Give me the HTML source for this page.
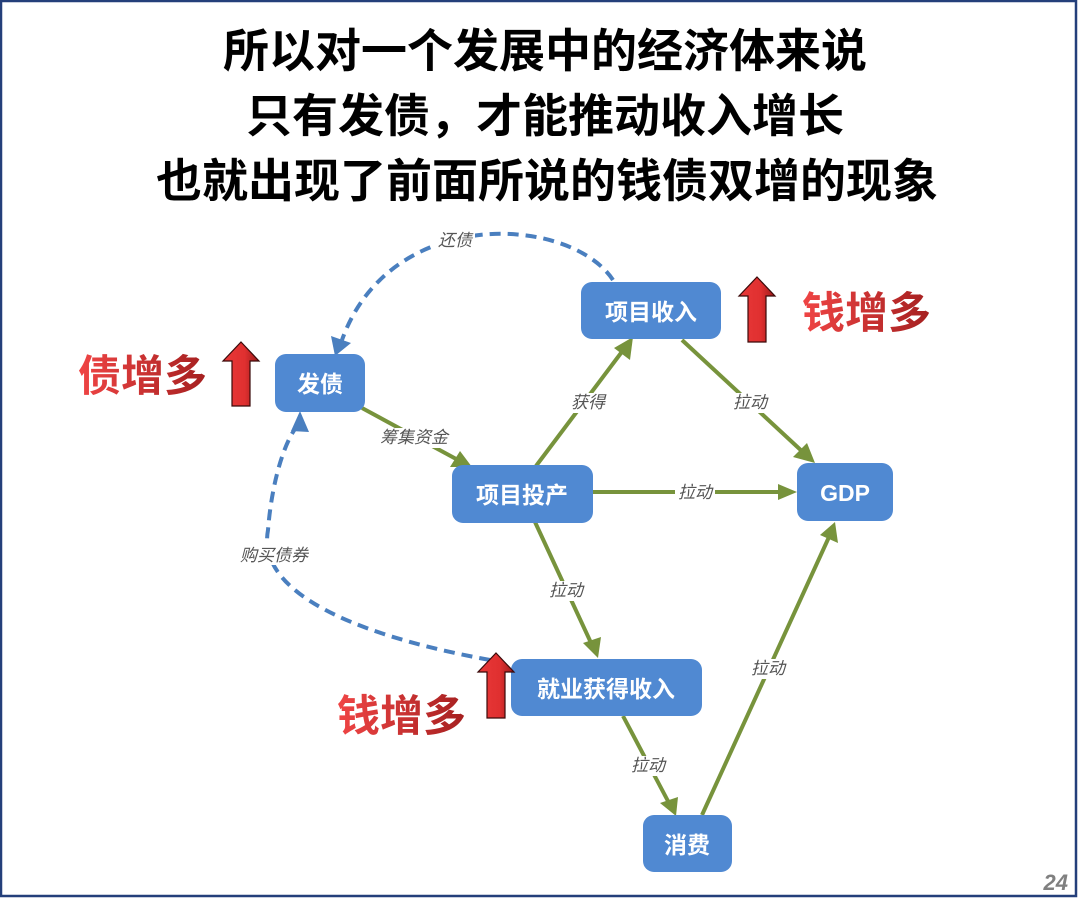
<!DOCTYPE html>
<html><head><meta charset="utf-8">
<style>
html,body{margin:0;padding:0;background:#fff;}
body{width:1080px;height:899px;overflow:hidden;position:relative;font-family:"Liberation Sans","Noto Sans CJK SC",sans-serif;}
</style></head>
<body>
<svg width="1080" height="899" viewBox="0 0 1080 899" xmlns="http://www.w3.org/2000/svg" style="position:absolute;left:0;top:0">
<defs>
<linearGradient id="rg" x1="0" y1="0" x2="1" y2="0">
<stop offset="0" stop-color="#f04545"/><stop offset="1" stop-color="#a52020"/></linearGradient>
<linearGradient id="ag" x1="0" y1="0" x2="1" y2="0">
<stop offset="0" stop-color="#e83838"/><stop offset="0.6" stop-color="#e03030"/><stop offset="1" stop-color="#9a1a1a"/></linearGradient>
</defs>
<rect x="1" y="1" width="1075" height="895" fill="none" stroke="#243f7a" stroke-width="2.5"/>
<g font-family="'Liberation Sans','Noto Sans CJK SC',sans-serif" font-weight="bold" font-size="46" fill="#000" text-anchor="middle">
<text x="545" y="67">所以对一个发展中的经济体来说</text>
<text x="545" y="132">只有发债，才能推动收入增长</text>
<text x="547" y="197">也就出现了前面所说的钱债双增的现象</text>
</g>
<g fill="none" stroke="#4a7fbf" stroke-width="4" stroke-dasharray="11,7">
<path d="M613,280 C570,215 390,205 342,340"/>
<path d="M490,660 C380,640 255,600 268,530 C272,480 285,440 298,425"/>
</g>
<polygon points="335,356 331,336 351,343" fill="#4a7fbf"/>
<polygon points="300,411 291,431 309,432" fill="#4a7fbf"/>
<g stroke="#77933c" stroke-width="4" fill="none">
<line x1="362" y1="408" x2="458" y2="460"/>
<line x1="536" y1="466" x2="624" y2="349"/>
<line x1="682" y1="340" x2="805" y2="454"/>
<line x1="592" y1="492" x2="782" y2="492"/>
<line x1="535" y1="522" x2="592" y2="645"/>
<line x1="623" y1="716" x2="669" y2="803"/>
<line x1="702" y1="815" x2="829" y2="537"/>
</g>
<g fill="#77933c">
<polygon points="472,467 450,467 460,451"/>
<polygon points="633,337 630,360 614,348"/>
<polygon points="815,463 793,457 807,443"/>
<polygon points="797,492 778,484 778,500"/>
<polygon points="598,658 583,643 601,637"/>
<polygon points="676,816 660,803 678,797"/>
<polygon points="835,522 838,543 820,535"/>
</g>
<g font-family="'Liberation Sans','Noto Sans CJK SC',sans-serif" font-style="italic" font-size="17" fill="#555" text-anchor="middle">
<rect x="435" y="230" width="40" height="20" fill="#fff"/><text x="455" y="246">还债</text>
<rect x="234" y="545" width="80" height="20" fill="#fff"/><text x="274" y="561">购买债券</text>
<rect x="375" y="428" width="78" height="20" fill="#fff"/><text x="414" y="443">筹集资金</text>
<rect x="568" y="393" width="40" height="20" fill="#fff"/><text x="588" y="408">获得</text>
<rect x="730" y="393" width="40" height="20" fill="#fff"/><text x="750" y="408">拉动</text>
<rect x="675" y="483" width="40" height="20" fill="#fff"/><text x="695" y="498">拉动</text>
<rect x="546" y="581" width="40" height="20" fill="#fff"/><text x="566" y="596">拉动</text>
<rect x="628" y="756" width="40" height="20" fill="#fff"/><text x="648" y="771">拉动</text>
<rect x="748" y="659" width="40" height="20" fill="#fff"/><text x="768" y="674">拉动</text>
</g>
<g fill="#5089d2">
<rect x="275" y="354" width="90" height="58" rx="11"/>
<rect x="452" y="465" width="141" height="58" rx="11"/>
<rect x="581" y="282" width="140" height="57" rx="11"/>
<rect x="797" y="463" width="96" height="58" rx="11"/>
<rect x="511" y="659" width="191" height="57" rx="11"/>
<rect x="643" y="815" width="89" height="57" rx="11"/>
</g>
<g font-family="'Liberation Sans','Noto Sans CJK SC',sans-serif" font-weight="bold" font-size="23" fill="#fff" text-anchor="middle">
<text x="320" y="392">发债</text>
<text x="522" y="503">项目投产</text>
<text x="651" y="320">项目收入</text>
<text x="845" y="501">GDP</text>
<text x="606" y="697">就业获得收入</text>
<text x="687" y="853">消费</text>
</g>
<g stroke="#3a0a0a" stroke-width="1.2" fill="url(#ag)">
<polygon points="241,342 259,361 250,361 250,406 232,406 232,361 223,361"/>
<polygon points="757,277 775,296 766,296 766,342 748,342 748,296 739,296"/>
<polygon points="496,653 514,672 505,672 505,718 487,718 487,672 478,672"/>
</g>
<g font-family="'Liberation Sans','Noto Sans CJK SC',sans-serif" font-weight="bold" font-size="43" fill="url(#rg)">
<text x="78" y="391">债增多</text>
<text x="802" y="328">钱增多</text>
<text x="337" y="731">钱增多</text>
</g>
<text x="1068" y="890" text-anchor="end" font-family="'Liberation Sans',sans-serif" font-style="italic" font-weight="bold" font-size="22" fill="#808080">24</text>
</svg>
</body></html>
